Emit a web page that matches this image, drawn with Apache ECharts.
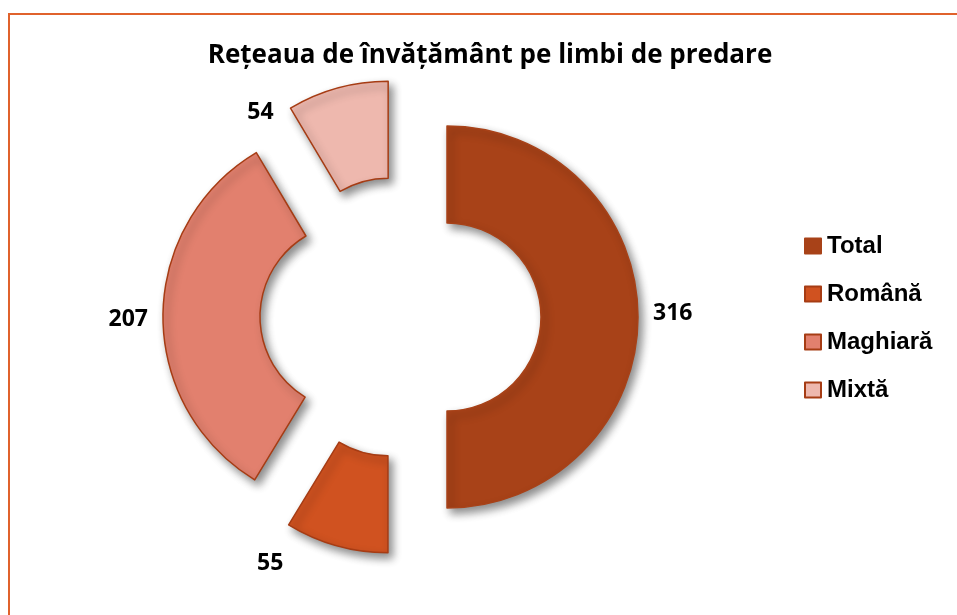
<!DOCTYPE html>
<html>
<head>
<meta charset="utf-8">
<script src="https://cdn.jsdelivr.net/npm/echarts@6/dist/echarts.min.js"></script>
<style>
	html, body { margin: 0; padding: 0; background: #fff; }
	#chart { width: 957px; height: 615px; }
</style>
</head>
<body>
<div id="chart"></div>
<script>
// date din grafic
var categories = ["Total", "Română", "Maghiară", "Mixtă"];
var values = [316, 55, 207, 54];
var colors = ["#A84218", "#D05220", "#E2806E", "#EEB8AE"];
var borderColors = ["#A84218", "#A63C14", "#A63C14", "#A63C14"];

// deplasari ale etichetelor fata de pozitia calculata
var labelShift = [[-6, -4], [-43, 3], [6, 4], [-54, 39]];

var chart = echarts.init(document.getElementById('chart'));

var pieData = [];
for (var i = 0; i < categories.length; i++) {
	pieData.push({
		name: categories[i],
		value: values[i],
		selected: true,
		itemStyle: {
			color: colors[i],
			borderColor: borderColors[i],
			borderWidth: 1.5
		}
	});
}

var option = {
	animation: false,
	backgroundColor: '#ffffff',
	title: {
		text: 'Rețeaua de învățământ pe limbi de predare',
		left: 485,
		top: 38,
		textAlign: 'center',
		textStyle: {
			fontFamily: 'Open Sans',
			fontWeight: 'bold',
			fontSize: 26,
			color: '#000'
		}
	},
	legend: {
		orient: 'vertical',
		left: 804,
		top: 234,
		padding: 0,
		itemWidth: 16,
		itemHeight: 15,
		itemGap: 24,
		icon: 'rect',
		selectedMode: false,
		data: categories,
		textStyle: {
			fontFamily: 'Liberation Sans',
			fontWeight: 'bold',
			fontSize: 24,
			color: '#000',
			padding: [0, 0, 0, 1]
		}
	},
	graphic: [{
		type: 'polyline',
		shape: { points: [[9, 615], [9, 14], [957, 14]] },
		style: { stroke: '#E0622C', lineWidth: 2, fill: null },
		silent: true
	}],
	series: [{
		type: 'pie',
		center: [400.5, 317],
		radius: [94, 191],
		startAngle: 90,
		clockwise: true,
		selectedMode: 'multiple',
		selectedOffset: 46.5,
		avoidLabelOverlap: false,
		itemStyle: {
			shadowBlur: 8,
			shadowOffsetX: 4,
			shadowOffsetY: 5,
			shadowColor: 'rgba(0,0,0,0.45)'
		},
		select: {
			itemStyle: {
				shadowBlur: 8,
				shadowOffsetX: 4,
				shadowOffsetY: 5,
				shadowColor: 'rgba(0,0,0,0.45)'
			}
		},
		label: {
			show: true,
			position: 'outside',
			formatter: '{c}',
			fontFamily: 'Open Sans',
			fontWeight: 'bold',
			fontSize: 23,
			color: '#000'
		},
		labelLine: { show: false, length: 15, length2: 1 },
		labelLayout: function (params) {
			var s = labelShift[params.dataIndex];
			return { dx: s[0], dy: s[1] };
		},
		emphasis: { disabled: true },
		data: pieData
	}]
};

chart.setOption(option);
</script>
</body>
</html>
